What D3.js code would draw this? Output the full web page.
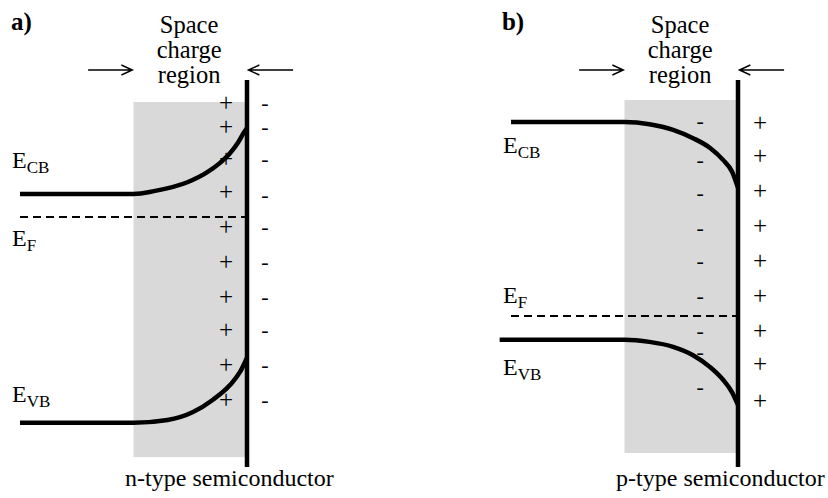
<!DOCTYPE html>
<html>
<head>
<meta charset="utf-8">
<script src="https://cdn.jsdelivr.net/npm/d3@7"></script>
<style>
  body { margin: 0; background: #fff; }
  svg { display: block; }
  text { font-family: "Liberation Serif", "Times New Roman", Times, serif; fill: #000; }
</style>
</head>
<body>
<svg id="chart" width="828" height="498"></svg>
<script>
// Band edges: [distance from surface (nm), energy relative to E_F (eV)]
const nTypeCB = [[-100, 0.33], [-50, 0.33], [-41, 0.37], [-26, 0.50], [-18, 0.63], [-12, 0.77], [-7.5, 0.91], [-4, 1.06], [-1.3, 1.21], [0, 1.27]];
const nTypeVB = [[-100, -2.94], [-50, -2.94], [-35, -2.90], [-24, -2.79], [-15, -2.61], [-7.5, -2.40], [-3, -2.21], [0, -2.01]];
const pTypeCB = [[-100, 2.77], [-50, 2.77], [-39, 2.74], [-28.6, 2.66], [-19.8, 2.54], [-12.3, 2.40], [-6.6, 2.23], [-2.6, 2.06], [0, 1.83]];
const pTypeVB = [[-105, -0.34], [-50, -0.34], [-39, -0.37], [-28.6, -0.44], [-19.8, -0.56], [-12.3, -0.73], [-6.6, -0.91], [-2.6, -1.09], [0, -1.27]];

// Fermi level span (nm)
const nTypeEF = [[-100, 0], [0, 0]];
const pTypeEF = [[-100, 0], [0, 0]];

// Charge marks (energy axis position of each sign)
const nTypeInside = [1.60, 1.26, 0.80, 0.33, -0.16, -0.66, -1.16, -1.64, -2.13, -2.64];
const nTypeOutside = [1.60, 1.26, 0.81, 0.30, -0.16, -0.66, -1.16, -1.64, -2.13, -2.64];
const pTypeInside = [2.76, 2.20, 1.73, 1.24, 0.76, 0.27, -0.24, -0.54, -1.04];
const pTypeOutside = [2.73, 2.26, 1.76, 1.26, 0.77, 0.26, -0.23, -0.71, -1.23];

// Level labels: [main letter, subscript, energy of baseline]
const nTypeLabels = [["E", "CB", 0.70], ["E", "F", -0.414], ["E", "VB", -2.643]];
const pTypeLabels = [["E", "CB", 2.33], ["E", "F", 0.186], ["E", "VB", -0.843]];

const titleLines = ["Space", "charge", "region"];

const panels = [
  { tag: "a)", dx: 0, yDomain: [-3.571, 1.957], shade: [1.643, -3.43],
    cb: nTypeCB, vb: nTypeVB, ef: nTypeEF,
    inside: nTypeInside, insideChar: "+", insideX: -9.25,
    outside: nTypeOutside, outsideChar: "-", outsideX: 7.9,
    labels: nTypeLabels, caption: "n-type semiconductor" },
  { tag: "b)", dx: 491, yDomain: [-2.157, 3.371], shade: [3.086, -1.957],
    cb: pTypeCB, vb: pTypeVB, ef: pTypeEF,
    inside: pTypeInside, insideChar: "-", insideX: -16.7,
    outside: pTypeOutside, outsideChar: "+", outsideX: 9.7,
    labels: pTypeLabels, caption: "p-type semiconductor" }
];

// glyph size and baseline shift for each charge sign
const signStyle = { "+": { size: 25, shift: 6.5 }, "-": { size: 22, shift: 5.5 } };

const svg = d3.select("#chart");
const x = d3.scaleLinear().domain([-100, 0]).range([20, 247]);

panels.forEach(p => {
  const g = svg.append("g").attr("transform", `translate(${p.dx},0)`);
  const y = d3.scaleLinear().domain(p.yDomain).range([467, 80]);

  // space charge region shading
  g.append("rect")
    .attr("x", x(-50)).attr("y", y(p.shade[0]))
    .attr("width", x(0) - x(-50)).attr("height", y(p.shade[1]) - y(p.shade[0]))
    .attr("fill", "#d9d9d9");

  // panel tag
  g.append("text").attr("x", x(-104)).attr("y", 30)
    .attr("font-size", 25).attr("font-weight", "bold").text(p.tag);

  // title
  g.append("text").attr("text-anchor", "middle").attr("font-size", 24.5)
    .selectAll("tspan").data(titleLines).join("tspan")
    .attr("x", x(-25.5)).attr("y", (d, i) => 33 + i * 25).text(d => d);

  // arrows marking the region edges
  const arrow = (x0, x1) => {
    const dir = Math.sign(x(x1) - x(x0));
    const tx = x(x1), ty = 70;
    g.append("path")
      .attr("d", `M${x(x0)},${ty}H${tx}M${tx - dir * 11},${ty - 5}L${tx},${ty}L${tx - dir * 11},${ty + 5}`)
      .attr("fill", "none").attr("stroke", "#000").attr("stroke-width", 1.4);
  };
  arrow(-70, -50.5);
  arrow(20.3, 0.6);

  // charge signs
  [[p.inside, p.insideChar, p.insideX], [p.outside, p.outsideChar, p.outsideX]].forEach(([vals, ch, sx]) => {
    const st = signStyle[ch];
    g.append("g").attr("font-size", st.size).attr("text-anchor", "middle")
      .selectAll("text").data(vals).join("text")
      .attr("x", x(sx)).attr("y", d => y(d) + st.shift).text(ch);
  });

  // Fermi level
  const line = d3.line().x(d => x(d[0])).y(d => y(d[1]));
  g.append("path").attr("d", line(p.ef))
    .attr("fill", "none").attr("stroke", "#000").attr("stroke-width", 2)
    .attr("stroke-dasharray", "8,5");

  // band edges
  const band = d3.line().x(d => x(d[0])).y(d => y(d[1])).curve(d3.curveMonotoneX);
  [p.cb, p.vb].forEach(b => {
    g.append("path").attr("d", band(b))
      .attr("fill", "none").attr("stroke", "#000").attr("stroke-width", 4.5);
  });

  // surface
  g.append("line").attr("x1", x(0)).attr("x2", x(0)).attr("y1", 80).attr("y2", 467)
    .attr("stroke", "#000").attr("stroke-width", 4.5);

  // level labels
  p.labels.forEach(([m, s, e]) => {
    const t = g.append("text").attr("x", x(-103.5)).attr("y", y(e)).attr("font-size", 24);
    t.append("tspan").text(m);
    t.append("tspan").attr("font-size", 17).attr("dy", 5).text(s);
  });

  // caption
  g.append("text").attr("x", x(-53.7)).attr("y", 486).attr("font-size", 24).text(p.caption);
});
</script>
</body>
</html>
